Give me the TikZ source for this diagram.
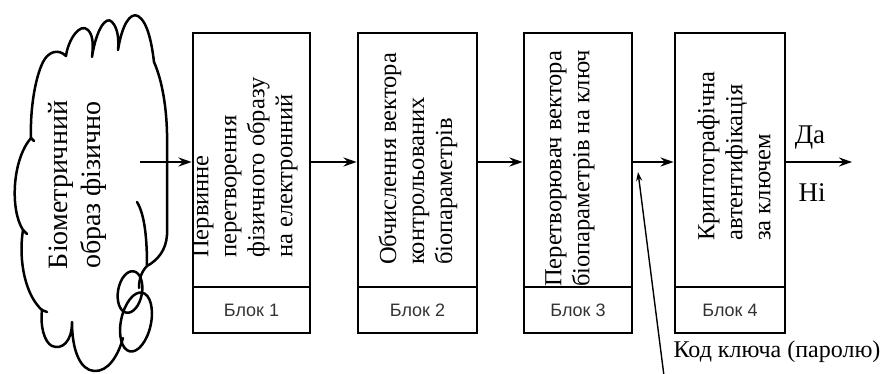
\documentclass[tikz,border=0pt]{standalone}
\usepackage{fontspec}
\setmainfont{Liberation Serif}
\newfontfamily\tagfont{Liberation Sans}
\usetikzlibrary{arrows.meta,calc}
\tikzset{
  mainbox/.style={draw,line width=2.8pt,minimum width=#1,minimum height=254pt,inner sep=0pt},
  tagbox/.style={draw,line width=2.8pt,minimum width=#1,minimum height=46pt,inner sep=0pt,
    font=\tagfont\fontsize{18}{20}\selectfont,text=black!80},
  bodytxt/.style={rotate=90,anchor=west,align=left,inner sep=0pt,
    font=\fontsize{24.5}{28}\selectfont},
  flow/.style={line width=2.4pt,-{Stealth[length=13pt,width=9pt]}},
  keyarr/.style={line width=1.4pt,-{Stealth[length=9pt,width=6pt]}},
  cloudline/.style={line width=2.5pt,line cap=round,line join=round},
}
\begin{document}
\begin{tikzpicture}[x=1pt,y=-1pt]
\useasboundingbox (0,0) rectangle (885,374);

% cloud: the biometric image
\draw[cloudline]
  (43,62) .. controls (48,52) and (58,48) .. (66,56)
  .. controls (68,40) and (80,22) .. (88,30)
  .. controls (94,36) and (93,48) .. (92,57)
  .. controls (96,30) and (106,15) .. (112,22)
  .. controls (118,28) and (119,40) .. (118,50)
  .. controls (122,25) and (130,12) .. (138,16)
  .. controls (148,22) and (152,45) .. (154,62)
  .. controls (162,80) and (168,110) .. (167,150)
  -- (167,235)
  .. controls (166,250) and (158,260) .. (147,266)
  .. controls (141,272) and (139,280) .. (139,288);
\draw[cloudline] (137,202) .. controls (145,215) and (147,240) .. (147,266);
\draw[cloudline] (130,292) ellipse [x radius=12, y radius=21, rotate=-10];
\draw[cloudline] (136,322) ellipse [x radius=15, y radius=30, rotate=-12];
\draw[cloudline]
  (123,338) .. controls (118,356) and (108,372) .. (94,371)
  .. controls (80,370) and (72,350) .. (72,322)
  .. controls (72,342) and (62,350) .. (52,346)
  .. controls (44,342) and (40,325) .. (42,310)
  .. controls (26,296) and (18,262) .. (23,230)
  .. controls (10,210) and (12,160) .. (31,138)
  .. controls (30,110) and (35,78) .. (43,62);
\draw[cloudline] (42,310) -- (47,312);
\draw[cloudline] (23,230) -- (27,234);
\draw[cloudline] (31,138) -- (34,141);
\node[rotate=90,align=center,inner sep=0pt,font=\fontsize{28}{33}\selectfont]
  (cloudtxt) at (77,185) {Біометричний\\образ фізично};
\coordinate (src) at (140,162);

% processing blocks
\node[mainbox=117pt] (b1) at (251.5,160) {};
\node[tagbox=117pt] (l1) at (251.5,310) {Блок 1};
\node[mainbox=119pt] (b2) at (417.5,160) {};
\node[tagbox=119pt] (l2) at (417.5,310) {Блок 2};
\node[mainbox=108pt] (b3) at (578,160) {};
\node[tagbox=108pt] (l3) at (578,310) {Блок 3};
\node[mainbox=110pt] (b4) at (730,160) {};
\node[tagbox=110pt] (l4) at (730,310) {Блок 4};

\node[bodytxt] (t1) at (245,258) {Первинне\\перетворення\\фізичного образу\\на електронний};
\node[bodytxt] (t2) at (418,265) {Обчислення вектора\\контрольованих\\біопараметрів};
\node[bodytxt] (t3) at (570,287) {Перетворювач вектора\\біопараметрів на ключ};
\node[bodytxt] (t4) at (734,241) {Криптографічна\\автентифікація\\за ключем};

% main flow
\coordinate (out) at (852,162);
\draw[flow] (src) -- (b1.west |- src);
\draw[flow] (b1.east |- src) -- (b2.west |- src);
\draw[flow] (b2.east |- src) -- (b3.west |- src);
\draw[flow] (b3.east |- src) -- (b4.west |- src);
\draw[flow] (b4.east |- src) -- (out);
\node[font=\fontsize{27}{30}\selectfont,inner sep=0pt] (yes) at (810,138) {Да};
\node[font=\fontsize{27}{30}\selectfont,inner sep=0pt] (no) at (812,193) {Ні};

% key input
\coordinate (keyfoot) at (664,376);
\coordinate (keytip) at (638,172);
\draw[keyarr] (keyfoot) -- (keytip);
\node[font=\fontsize{24}{28}\selectfont,inner sep=0pt] (keylab) at (777,352) {Код ключа (паролю)};
\end{tikzpicture}
\end{document}
